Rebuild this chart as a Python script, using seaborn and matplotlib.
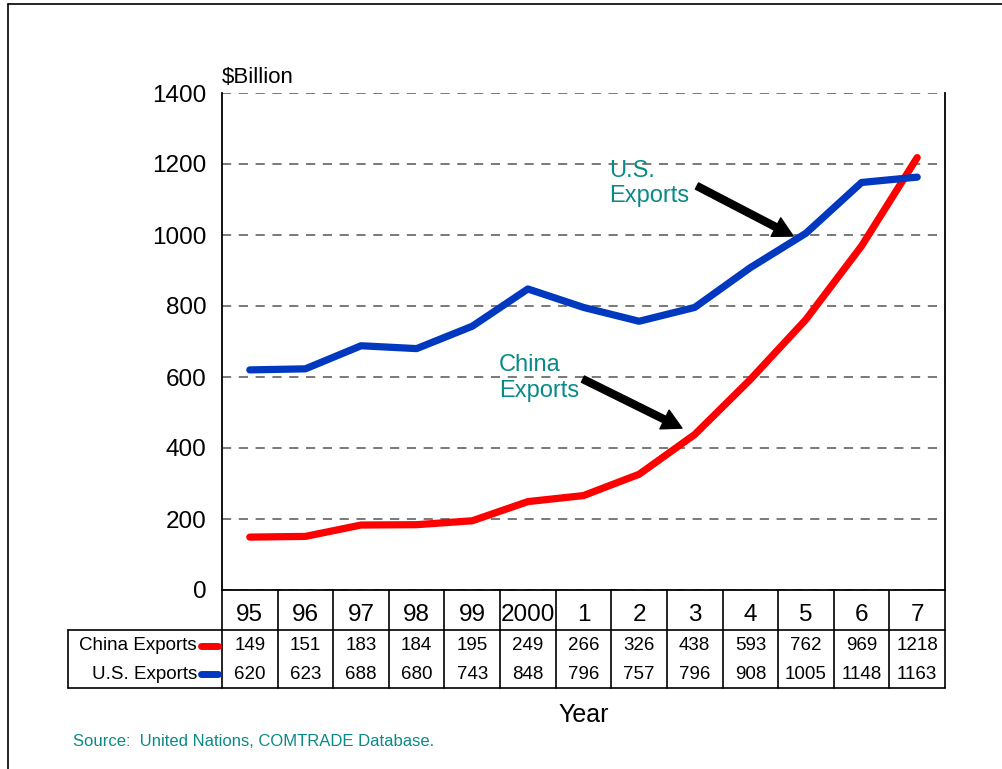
import matplotlib
matplotlib.use('Agg')
import matplotlib.pyplot as plt
import matplotlib.transforms as mtransforms
from matplotlib.lines import Line2D
import seaborn as sns
import pandas as pd
import numpy as np

sns.set_style("white")
plt.rcParams['font.family'] = ['Liberation Sans', 'DejaVu Sans']
plt.rcParams['text.color'] = 'black'
plt.rcParams['ytick.color'] = 'black'
plt.rcParams['xtick.color'] = 'black'

# data
years = ['95', '96', '97', '98', '99', '2000', '1', '2', '3', '4', '5', '6', '7']
china_exports = [149, 151, 183, 184, 195, 249, 266, 326, 438, 593, 762, 969, 1218]
us_exports = [620, 623, 688, 680, 743, 848, 796, 757, 796, 908, 1005, 1148, 1163]
series_names = ['China Exports', 'U.S. Exports']
y_ticks = [0, 200, 400, 600, 800, 1000, 1200, 1400]

RED = '#FF0000'
BLUE = '#0038C0'
TEAL = '#0A8A86'

pos = np.arange(len(years))
df = pd.concat([
    pd.DataFrame({'pos': pos, 'value': china_exports, 'series': series_names[0]}),
    pd.DataFrame({'pos': pos, 'value': us_exports, 'series': series_names[1]}),
])

fig = plt.figure(figsize=(10.03, 7.69), dpi=100)
ax = fig.add_axes([222 / 1003, 1 - 590 / 769, 723 / 1003, 497 / 769])

sns.lineplot(data=df, x='pos', y='value', hue='series', ax=ax,
             palette={series_names[0]: RED, series_names[1]: BLUE},
             linewidth=5.2, solid_capstyle='round', legend=False, zorder=3)

ax.set_xlim(-0.5, len(years) - 0.5)
ax.set_ylim(0, 1400)
ax.set_yticks(y_ticks)
ax.set_yticklabels([str(v) for v in y_ticks], fontsize=17.5)
ax.tick_params(axis='y', length=0, pad=11)
ax.set_xticks([])
ax.set_xlabel('')
ax.set_ylabel('')
ax.grid(axis='y', color='#555555', linestyle=(0, (6, 5)), linewidth=1.1)
ax.spines['top'].set_visible(False)
for side in ['left', 'right', 'bottom']:
    ax.spines[side].set_color('black')
    ax.spines[side].set_linewidth(1.3)

ax.text(0.0, 1.02, '$Billion', transform=ax.transAxes, fontsize=16,
        ha='left', va='baseline')

# annotations with arrows
ax.text(6.46, 1212, 'U.S.\nExports', color=TEAL, fontsize=17, ha='left',
        va='top', linespacing=1.22)
ax.text(4.48, 665, 'China\nExports', color=TEAL, fontsize=17, ha='left',
        va='top', linespacing=1.22)
arrow_kw = dict(facecolor='black', edgecolor='black', width=5, headwidth=15,
                headlength=14, shrink=0)
ax.annotate('', xy=(9.77, 997), xytext=(8.04, 1138), arrowprops=arrow_kw)
ax.annotate('', xy=(7.77, 456), xytext=(5.99, 594), arrowprops=arrow_kw)

# data table under the axes (x in data units, y in axes units)
trans = mtransforms.blended_transform_factory(ax.transData, ax.transAxes)
row_year_bot = -0.0805
row_tab_bot = -0.1972
label_left = -3.27
y_year, y_china, y_us = -0.050, -0.1125, -0.170
line_kw = dict(color='black', linewidth=1.2, transform=trans, clip_on=False)

right = len(years) - 0.5
ax.plot([label_left, right], [row_year_bot, row_year_bot], **line_kw)
ax.plot([label_left, right], [row_tab_bot, row_tab_bot], **line_kw)
ax.plot([label_left, label_left], [row_year_bot, row_tab_bot], **line_kw)
for i in range(len(years) + 1):
    ax.plot([i - 0.5, i - 0.5], [0, row_tab_bot], **line_kw)

for i, yr in enumerate(years):
    ax.text(i, y_year, yr, transform=trans, fontsize=17.5, ha='center', va='center')
    ax.text(i, y_china, str(china_exports[i]), transform=trans, fontsize=13.5,
            ha='center', va='center')
    ax.text(i, y_us, str(us_exports[i]), transform=trans, fontsize=13.5,
            ha='center', va='center')

for name, yy, col in [(series_names[0], y_china, RED), (series_names[1], y_us, BLUE)]:
    ax.text(-0.95, yy, name, transform=trans, fontsize=13.5, ha='right', va='center')
    ax.plot([-0.88, -0.57], [yy, yy], color=col, linewidth=5,
            solid_capstyle='round', transform=trans, clip_on=False)

ax.text(6, -0.2515, 'Year', transform=trans, fontsize=18, ha='center', va='center')

fig.text(73 / 1003, 1 - 742 / 769, 'Source:  United Nations, COMTRADE Database.',
         color=TEAL, fontsize=12, ha='left', va='center')

# slide frame
fig.add_artist(Line2D([8 / 1003, 8 / 1003], [0, 1 - 4 / 769], color='black',
                      linewidth=1.2, transform=fig.transFigure))
fig.add_artist(Line2D([8 / 1003, 1], [1 - 4 / 769, 1 - 4 / 769], color='black',
                      linewidth=1.2, transform=fig.transFigure))

fig.savefig('out.png', dpi=100)
